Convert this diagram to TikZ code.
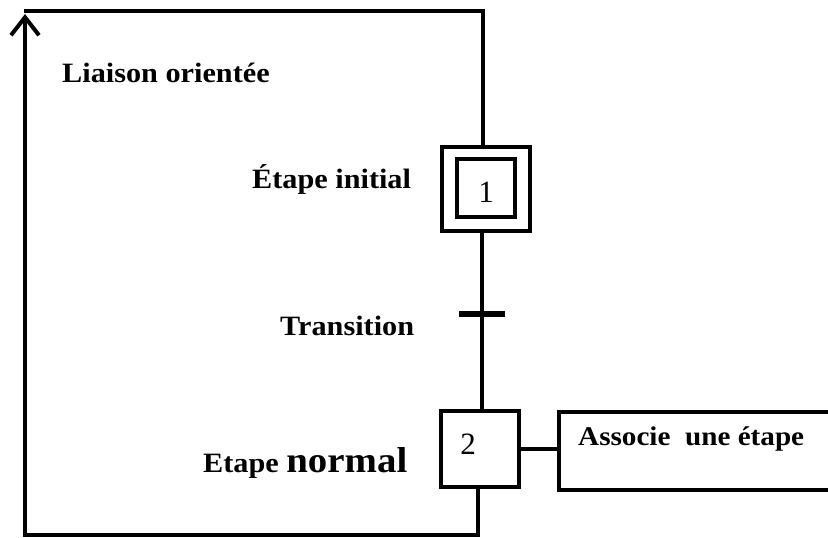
\documentclass[tikz,border=0pt]{standalone}
\usepackage{fontspec}
\setmainfont{Liberation Serif}
\usetikzlibrary{arrows.meta}
\tikzset{
  ln/.style={line width=4pt},
  lbl/.style={anchor=base west, inner sep=0pt, font=\fontsize{28}{30}\selectfont\bfseries, xscale=1.08, transform shape},
  stepbox/.style={draw, line width=4pt, inner sep=0pt},
  num/.style={inner sep=0pt, font=\fontsize{31}{32}\selectfont},
}
\begin{document}
\begin{tikzpicture}[x=1pt,y=-1pt]
\useasboundingbox (0,0) rectangle (828,538);
\clip (0,0) rectangle (828,538);
% steps
\node[stepbox, minimum width=88, minimum height=84] (b1) at (486,188.5) {};
\node[stepbox, minimum width=58, minimum height=58] (b1i) at (486,188) {};
\node[num] (n1) at (486,192) {1};
\node[stepbox, minimum width=78, minimum height=76] (b2) at (480,448.5) {};
\node[num, anchor=base] (n2) at (468,454) {2};
\node[stepbox, anchor=north west, minimum width=290, minimum height=78] (act) at (557,410) {};
% labels
\node[lbl] (l1) at (62,82) {Liaison orientée};
\node[lbl] (l2) at (252,188) {Étape initial};
\node[lbl] (l3) at (280,335) {Transition};
\node[lbl] (l4) at (203,472) {Etape {\fontsize{36}{38}\selectfont normal}};
\node[lbl, font=\fontsize{27}{30}\selectfont\bfseries] (l5) at (578,445) {Associe\ \ une étape};
% connectors
\coordinate (t1) at (483,11);
\coordinate (tl) at (24,11);
\coordinate (tip) at (25,14);
\coordinate (bl) at (25,535);
\coordinate (tr) at (482,314);
\draw[ln] (b1.south -| 482,0) -- (b2.north -| 482,0);
\draw[line width=6pt] ([xshift=-23pt]tr) -- ([xshift=23pt]tr);
\draw[ln] (tl) -- (t1) -- (b1.north -| t1);
\draw[ln, -{Straight Barb[length=18pt, width=28pt, line width=4pt]}] (b2.south -| 478,0) |- (bl) -- (tip);
\draw[ln] (b2.east) -- (b2.east -| act.west);
\end{tikzpicture}
\end{document}
